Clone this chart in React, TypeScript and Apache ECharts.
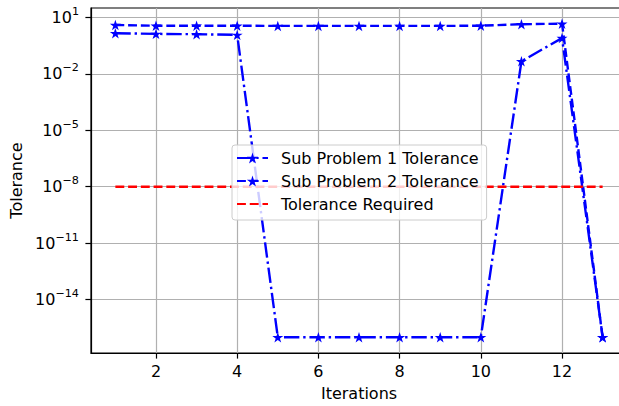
import React, { useEffect, useRef } from "react";
import * as echarts from "echarts";

const iterations = [1, 2, 3, 4, 5, 6, 7, 8, 9, 10, 11, 12, 13];
const subProblem1 = [1.44, 1.32, 1.27, 1.17, 1e-16, 1e-16, 1e-16, 1e-16, 1e-16, 1e-16, 0.046, 0.79, 1e-16];
const subProblem2 = [3.9, 3.6, 3.6, 3.6, 3.5, 3.5, 3.5, 3.5, 3.5, 3.6, 4.3, 4.6, 1e-16];
const toleranceRequired = [1e-8, 1e-8, 1e-8, 1e-8, 1e-8, 1e-8, 1e-8, 1e-8, 1e-8, 1e-8, 1e-8, 1e-8, 1e-8];

const seriesNames = ["Sub Problem 1 Tolerance", "Sub Problem 2 Tolerance", "Tolerance Required"];
const xTicks = [2, 4, 6, 8, 10, 12];
const yTickExponents = [-14, -11, -8, -5, -2, 1];
const xAxisTitle = "Iterations";
const yAxisTitle = "Tolerance";

const STAR =
  "path://M100,0L122.45,69.1L195.1,69.1L136.3,111.8L158.8,180.9L100,138.2L41.2,180.9L63.7,111.8L4.9,69.1L77.55,69.1Z";
const FONT = "DejaVu Sans";
const FS = 16;

export default function App() {
  const ref = useRef<HTMLDivElement>(null);
  useEffect(() => {
    if (!ref.current) return;
    document.documentElement.style.overflow = "hidden";
    document.body.style.overflow = "hidden";
    const chart = echarts.init(ref.current, null, { renderer: "svg" });

    const xMinD = Math.min(...iterations);
    const xMaxD = Math.max(...iterations);
    const xPad = (xMaxD - xMinD) * 0.05;
    const allY = [...subProblem1, ...subProblem2, ...toleranceRequired];
    const lMin = Math.log10(Math.min(...allY));
    const lMax = Math.log10(Math.max(...allY));
    const lPad = (lMax - lMin) * 0.05;

    const pts = (ys: number[]) => iterations.map((x, i) => [x, ys[i]]);
    const sup = (e: number) => (e < 0 ? "\u2212" + -e : String(e));
    const yTickValues = yTickExponents.map((e) => Math.pow(10, e));

    chart.setOption({
      animation: false,
      backgroundColor: "#ffffff",
      grid: {
        left: 91,
        top: 8,
        width: 536,
        height: 348,
        show: true,
        borderColor: "#000000",
        borderWidth: 1.2,
        backgroundColor: "transparent",
      },
      xAxis: {
        type: "value",
        min: xMinD - xPad,
        max: xMaxD + xPad,
        name: xAxisTitle,
        nameLocation: "middle",
        nameGap: 32,
        nameTextStyle: { fontFamily: FONT, fontSize: FS, color: "#000" },
        axisLine: { show: true, lineStyle: { color: "#000", width: 1.2 } },
        axisTick: { show: true, length: 5.6, lineStyle: { color: "#000", width: 1.2 }, customValues: xTicks },
        axisLabel: {
          fontFamily: FONT,
          fontSize: FS,
          color: "#000",
          margin: 10,
          customValues: xTicks,
        },
        splitLine: { show: true, lineStyle: { color: "#b0b0b0", width: 1.2 } },
      },
      yAxis: {
        type: "log",
        logBase: 10,
        min: Math.pow(10, lMin - lPad),
        max: Math.pow(10, lMax + lPad),
        name: yAxisTitle,
        nameLocation: "middle",
        nameGap: 61,
        nameTextStyle: { fontFamily: FONT, fontSize: FS, color: "#000" },
        axisLine: { show: true, lineStyle: { color: "#000", width: 1.2 } },
        axisTick: {
          show: true,
          length: 5.6,
          lineStyle: { color: "#000", width: 1.2 },
          customValues: yTickValues,
        },
        axisLabel: {
          margin: 12,
          customValues: yTickValues,
          formatter: (v: number) => "{b|10}{s|" + sup(Math.round(Math.log10(v))) + "}",
          rich: {
            b: { fontFamily: FONT, fontSize: FS, color: "#000", verticalAlign: "middle" },
            s: {
              fontFamily: FONT,
              fontSize: 11.2,
              color: "#000",
              verticalAlign: "top",
              padding: [0, 0, 12, 0],
            },
          },
        },
        splitLine: { show: true, lineStyle: { color: "#b0b0b0", width: 1.2 } },
      },
      legend: {
        orient: "vertical",
        left: 232,
        top: 145,
        itemWidth: 31,
        itemHeight: 14,
        itemGap: 7,
        padding: [5, 8, 8, 4],
        backgroundColor: "rgba(255,255,255,0.8)",
        borderColor: "#cccccc",
        borderWidth: 1,
        borderRadius: 3,
        z: 10,
        textStyle: { fontFamily: FONT, fontSize: FS, color: "#000", padding: [0, 0, 0, 8] },
        data: [
          { name: seriesNames[0] },
          { name: seriesNames[1] },
          { name: seriesNames[2], itemStyle: { opacity: 0 } },
        ],
      },
      series: [
        {
          name: seriesNames[0],
          type: "line",
          data: pts(subProblem1),
          symbol: STAR,
          symbolSize: 11,
          symbolKeepAspect: true,
          itemStyle: { color: "#0000ff" },
          lineStyle: { color: "#0000ff", width: 2.4, type: [15.4, 3.84, 2.4, 3.84] },
        },
        {
          name: seriesNames[1],
          type: "line",
          data: pts(subProblem2),
          symbol: STAR,
          symbolSize: 11,
          symbolKeepAspect: true,
          itemStyle: { color: "#0000ff" },
          lineStyle: { color: "#0000ff", width: 2.4, type: [8.9, 3.84] },
        },
        {
          name: seriesNames[2],
          type: "line",
          data: pts(toleranceRequired),
          symbol: "none",
          itemStyle: { color: "#ff0000" },
          lineStyle: { color: "#ff0000", width: 2.4, type: [8.9, 3.84] },
        },
      ],
    });
    return () => chart.dispose();
  }, []);
  return (
    <div
      ref={ref}
      style={{ position: "fixed", left: 0, top: 0, width: 640, height: 406, background: "#fff" }}
    />
  );
}
